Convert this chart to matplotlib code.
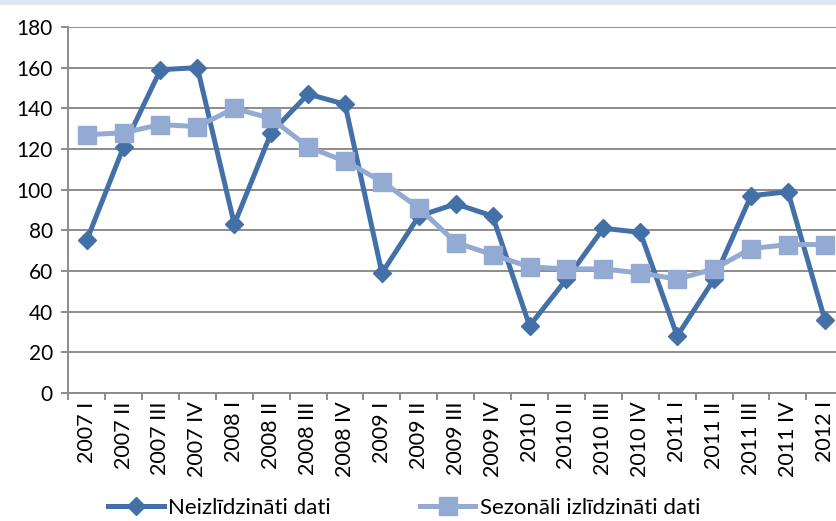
import matplotlib.pyplot as plt
from matplotlib.patches import Rectangle

plt.rcParams['font.family'] = ['Lato', 'DejaVu Sans']

quarters = ['2007 I', '2007 II', '2007 III', '2007 IV',
            '2008 I', '2008 II', '2008 III', '2008 IV',
            '2009 I', '2009 II', '2009 III', '2009 IV',
            '2010 I', '2010 II', '2010 III', '2010 IV',
            '2011 I', '2011 II', '2011 III', '2011 IV',
            '2012 I']
raw = [75, 121, 159, 160, 83, 128, 147, 142, 59, 87, 93, 87,
       33, 56, 81, 79, 28, 56, 97, 99, 36]
seasonal = [127, 128, 132, 131, 140, 135, 121, 114, 104, 91, 74, 68,
            62, 61, 61, 59, 56, 61, 71, 73, 73]
yticks = [0, 20, 40, 60, 80, 100, 120, 140, 160, 180]

dark = '#4470A8'
light = '#93AAD3'
grid = '#8C8C8C'

fig = plt.figure(figsize=(8.37, 5.21), dpi=100)
fig.patches.append(Rectangle((0, 0.993), 1, 0.01, transform=fig.transFigure,
                             color='#DCE6F1', zorder=0))
ax = fig.add_axes([0.0815, 0.2457, 0.926, 0.7025])

x = list(range(len(quarters)))
ax.plot(x, raw, color=dark, lw=3.6, marker='D', ms=9.5, label='Neizlīdzināti dati',
        zorder=3)
ax.plot(x, seasonal, color=light, lw=3.6, marker='s', ms=13, label='Sezonāli izlīdzināti dati',
        zorder=4)

ax.set_ylim(0, 180)
ax.set_xlim(-0.5, len(quarters) - 0.5)
ax.set_yticks(yticks)
ax.yaxis.grid(True, color=grid, lw=1.4)
ax.set_axisbelow(True)
for s in ['top', 'right']:
    ax.spines[s].set_visible(False)
for s in ['left', 'bottom']:
    ax.spines[s].set_color(grid)
    ax.spines[s].set_linewidth(1.4)

# category boundaries get the ticks, labels sit between them
ax.set_xticks([i - 0.5 for i in range(len(quarters) + 1)])
ax.set_xticklabels([])
ax.set_xticks(x, minor=True)
ax.set_xticklabels(quarters, minor=True, rotation=90, fontsize=15.5)
ax.tick_params(axis='x', which='major', length=5, width=1.4, color=grid, direction='out')
ax.tick_params(axis='x', which='minor', length=0, pad=6)
ax.tick_params(axis='y', length=5, width=1.4, color=grid, labelsize=15, pad=6)

fig.legend(loc='center', bbox_to_anchor=(0.483, 0.025), ncol=2, frameon=False,
           fontsize=16, handlelength=2.5, handletextpad=0.2, columnspacing=4.0,
           borderaxespad=0)

fig.savefig('out.png', dpi=100)
